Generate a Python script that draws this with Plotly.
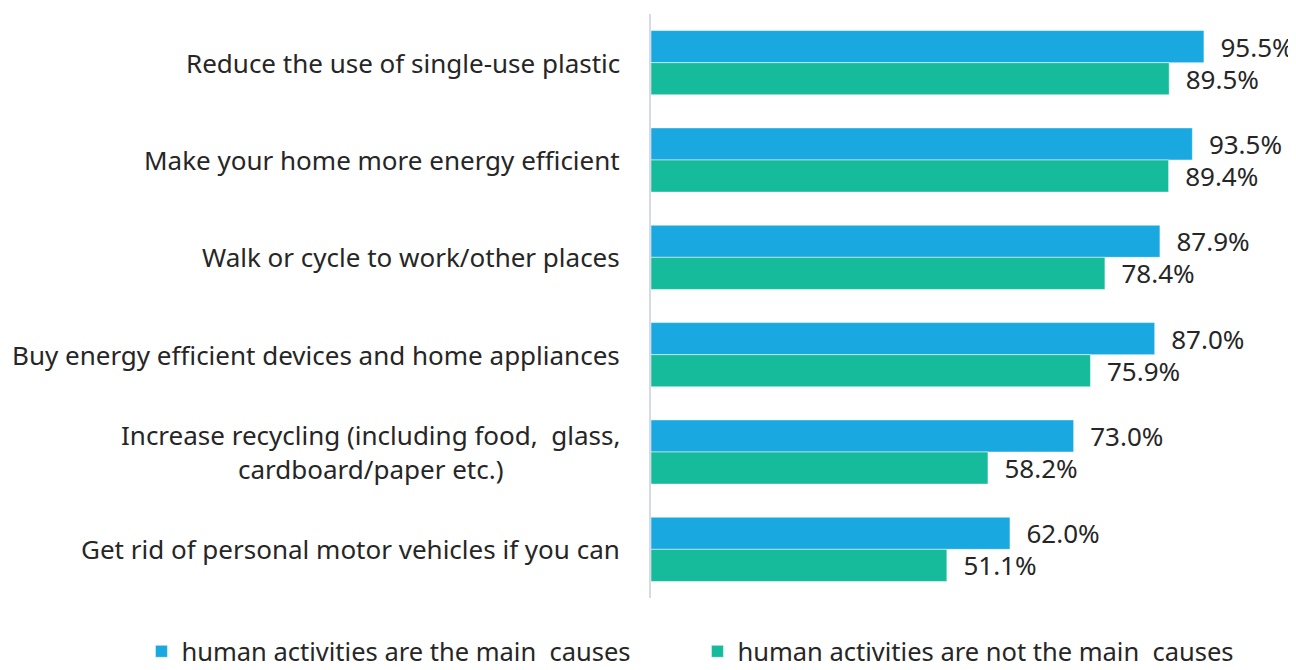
import plotly.graph_objects as go

categories = [
    "Reduce the use of single-use plastic",
    "Make your home more energy efficient",
    "Walk or cycle to work/other places",
    "Buy energy efficient devices and home appliances",
    "Increase recycling (including food,  glass,<br>cardboard/paper etc.)",
    "Get rid of personal motor vehicles if you can",
]
series_names = ["human activities are the main  causes", "human activities are not the main  causes"]
main_causes = [95.5, 93.5, 87.9, 87.0, 73.0, 62.0]
not_main_causes = [89.5, 89.4, 78.4, 75.9, 58.2, 51.1]
colors = ["#19a9e0", "#16bb9b"]

FONT = "Noto Sans"
TXT = "#262626"
FS = 26

fig = go.Figure()
for name, vals, col in zip(series_names, [main_causes, not_main_causes], colors):
    fig.add_trace(go.Bar(
        y=categories, x=vals, name=name, orientation="h",
        marker=dict(color=col, line=dict(color="white", width=0.5)),
        text=[f"{v:.1f}%" for v in vals], textposition="outside",
        texttemplate="  %{text}", constraintext="none",
        textfont=dict(family=FONT, size=FS, color=TXT),
        cliponaxis=False,
    ))

for c in categories:
    fig.add_annotation(
        x=0, xref="paper", y=c, yref="y", text=c, showarrow=False,
        xanchor="right", yanchor="middle", align="center", xshift=-29,
        font=dict(family=FONT, size=FS, color=TXT),
    )

fig.update_layout(
    width=1288, height=670,
    margin=dict(l=643, r=0, t=6, b=80, autoexpand=False),
    barmode="group", bargap=0.34, bargroupgap=0,
    plot_bgcolor="white", paper_bgcolor="white",
    font=dict(family=FONT, size=FS, color=TXT),
    showlegend=True,
    legend=dict(orientation="h", x=-0.79, xanchor="left", y=-0.092, yanchor="middle",
                font=dict(family=FONT, size=25.5, color=TXT), itemwidth=30,
                entrywidth=511, entrywidthmode="pixels", tracegroupgap=0),
    uniformtext=dict(mode=False),
)
fig.update_xaxes(range=[0, 111.4], visible=False, showgrid=False, zeroline=False)
fig.update_yaxes(autorange="reversed", showticklabels=False, showgrid=False,
                 showline=True, linecolor="#d5dae6", linewidth=1.5, ticks="")

fig.write_html("out.html")
